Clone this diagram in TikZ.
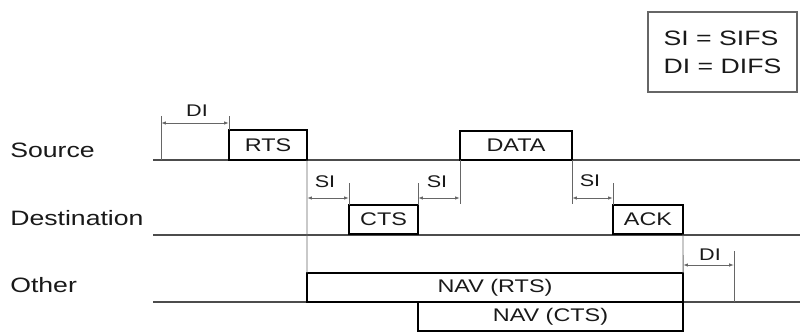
\documentclass[tikz,border=0pt]{standalone}
\usepackage{fontspec}
\setmainfont{Liberation Sans}[FakeStretch=1.28]
\usepackage{xcolor}
\usetikzlibrary{arrows.meta,positioning,calc}

\begin{document}
\begin{tikzpicture}[x=0.025cm, y=-0.025cm,
    lane/.style={draw=black!70, line width=0.75pt},
    tick/.style={draw=black!60, line width=0.65pt},
    dim/.style={draw=black!60, line width=0.65pt, {Latex[length=3.5pt,width=2.5pt]}-{Latex[length=3.5pt,width=2.5pt]}},
    frame/.style={rectangle, draw=black, line width=1.8pt, inner sep=0pt, outer sep=0pt, minimum height=0.725cm, text=black!90, font=\fontsize{13}{15}\selectfont},
    gaplabel/.style={inner sep=0pt, text=black!90, font=\fontsize{12}{14}\selectfont},
    station/.style={anchor=base west, inner sep=0pt, text=black!90, font=\fontsize{14.8}{17}\selectfont},
    legend/.style={rectangle, draw=black!60, line width=0.9pt, minimum width=3.725cm, minimum height=2cm, align=left, text=black!90, font=\fontsize{14.8}{20}\selectfont}
]
    \useasboundingbox (0,0) rectangle (800,334);

    % Station names
    \node[station] (src) at (10,157) {Source};
    \node[station] (dst) at (10,225) {Destination};
    \node[station] (oth) at (10,292) {Other};

    % Time lines
    \coordinate (srcA) at (153,160);
    \coordinate (srcB) at (800,160);
    \coordinate (dstA) at (153,235);
    \coordinate (dstB) at (800,235);
    \coordinate (othA) at (153,302);
    \coordinate (othB) at (800,302);
    \draw[lane] (srcA) -- (srcB);
    \draw[lane] (dstA) -- (dstB);
    \draw[lane] (othA) -- (othB);

    % Frames
    \node[frame, minimum width=1.95cm, minimum height=0.75cm] (rts) at (268,145) {RTS};
    \node[frame, minimum width=1.725cm] (cts)  at (383.5,219.5) {CTS};
    \node[frame, minimum width=2.8cm]   (data) at (516,145.5) {DATA};
    \node[frame, minimum width=1.75cm]  (ack)  at (648,219.5) {ACK};
    \node[frame, minimum width=9.4cm]   (navrts) at (495,287.5) {NAV (RTS)};
    \node[frame, minimum width=6.625cm] (navcts) at (550.5,316.5) {NAV (CTS)};

    % Legend
    \node[legend] (key) at (722.5,52) {SI = SIFS\\DI = DIFS};

    % Rows of the gap arrows
    \coordinate (diTop) at (161,116);
    \coordinate (diRow) at (0,123);
    \coordinate (siTop) at (0,183);
    \coordinate (siRow) at (0,198);
    \coordinate (siBot) at (0,204);
    \coordinate (diEnd) at (734,251);
    \coordinate (diRow2) at (0,265);

    % DIFS before RTS
    \draw[tick] (diTop) -- (diTop |- srcA);
    \draw[tick] (rts.north west) -- (rts.north west |- diTop);
    \draw[dim] (diTop |- diRow) -- (rts.north west |- diRow);
    \node[gaplabel] (di1) at (197,111) {DI};

    % RTS end down to NAV
    \draw[tick] (rts.south east) -- (navrts.north west);

    % SIFS between RTS and CTS
    \draw[tick] (cts.north west) -- (cts.north west |- siTop);
    \draw[dim] (rts.south east |- siRow) -- (cts.north west |- siRow);
    \node[gaplabel] (si1) at (325,181.5) {SI};

    % SIFS between CTS and DATA
    \draw[tick] (cts.north east) -- (cts.north east |- siTop);
    \draw[tick] (data.south west) -- (data.south west |- siBot);
    \draw[dim] (cts.north east |- siRow) -- (data.south west |- siRow);
    \node[gaplabel] (si2) at (437,181.5) {SI};

    % SIFS between DATA and ACK
    \draw[tick] (data.south east) -- (data.south east |- siBot);
    \draw[tick] (ack.north west) -- (ack.north west |- siTop);
    \draw[dim] (data.south east |- siRow) -- (ack.north west |- siRow);
    \node[gaplabel] (si3) at (590,180.5) {SI};

    % ACK end down to NAV, then DIFS
    \draw[tick] (ack.south east) -- (navrts.north east);
    \draw[tick] (diEnd) -- (diEnd |- othA);
    \draw[dim] (navrts.north east |- diRow2) -- (diEnd |- diRow2);
    \node[gaplabel] (di2) at (710,255) {DI};

\end{tikzpicture}
\end{document}
